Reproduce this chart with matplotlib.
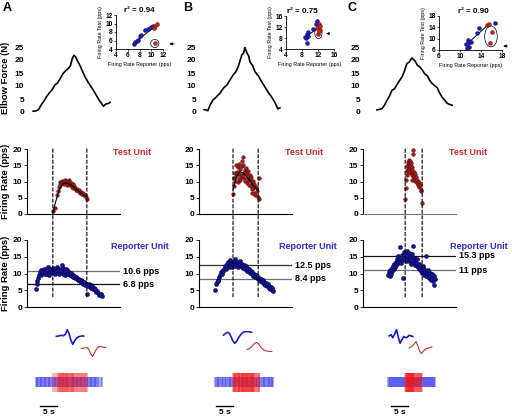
import numpy as np
import matplotlib
matplotlib.use('Agg')
import matplotlib.pyplot as plt
from matplotlib.patches import Ellipse, ConnectionPatch
from matplotlib.transforms import blended_transform_factory

plt.rcParams['font.family'] = ['Liberation Sans', 'DejaVu Sans']
plt.rcParams['font.weight'] = 'bold'

# ---------------- data (time in s from the left edge of each panel) ----------------
force_t_A = [1.8, 2.6, 3.4, 4.2, 5.0, 5.8, 6.6, 7.4, 8.2, 9.0, 9.8, 10.6, 11.4, 12.2, 12.8, 13.3, 13.8,
             14.3, 14.8, 15.6, 16.4, 17.2, 18.0, 18.8, 19.6, 20.4, 21.2, 21.9, 22.5, 23.0, 23.5, 24.0, 24.4]
force_A = [0.3, 0.4, 0.9, 2.8, 4.2, 6.0, 7.4, 8.6, 10.4, 11.2, 12.9, 14.8, 15.9, 16.8, 17.9, 20.5, 21.8,
           21.2, 19.8, 17.8, 15.4, 13.2, 11.4, 9.8, 8.2, 6.4, 4.6, 3.3, 2.2, 2.9, 3.2, 3.3, 3.7]
force_t_B = [1.5, 2.1, 2.6, 3.3, 4.1, 5.1, 6.2, 7.2, 8.2, 9.1, 10.0, 10.8, 11.5, 12.1, 12.6, 13.1, 13.5,
             14.1, 14.6, 15.0, 15.8, 16.5, 17.5, 18.5, 19.4, 20.3, 21.3, 22.4, 23.2, 23.8]
force_B = [0.9, 0.8, 0.5, 2.8, 4.6, 5.8, 7.3, 9.2, 10.4, 12.3, 14.2, 15.4, 17.3, 19.8, 22.0, 22.6, 24.8,
           22.7, 21.6, 19.2, 17.8, 15.4, 13.8, 11.5, 9.6, 7.7, 5.9, 3.5, 1.2, 1.6]
force_t_C = [4.1, 4.8, 5.6, 6.3, 7.1, 7.8, 8.5, 9.3, 10.0, 10.7, 11.5, 12.2, 12.9, 13.6, 14.1, 14.4, 14.8,
             15.3, 16.0, 16.8, 17.5, 18.2, 19.0, 19.6, 20.3, 21.0, 21.8, 22.5, 23.2, 24.0, 24.7, 25.5, 26.2]
force_C = [0.8, 1.0, 1.3, 2.6, 4.6, 6.2, 8.3, 9.0, 10.6, 12.0, 13.5, 15.8, 18.6, 19.2, 20.3, 20.8, 20.2,
           19.6, 18.0, 17.2, 16.0, 14.6, 13.8, 12.2, 11.0, 10.2, 9.4, 7.4, 5.8, 4.6, 3.4, 2.9, 2.6]

test_t_A = [7.7, 8.2, 8.8, 9.1, 9.4, 9.6, 9.8, 10.0, 10.2, 10.4,
            10.6, 10.8, 11.0, 11.2, 11.4, 11.6, 11.8, 12.0, 12.2, 12.4,
            12.6, 12.8, 13.0, 13.2, 13.4, 13.6, 13.8, 14.0, 14.3, 14.6,
            14.9, 15.2, 15.5, 15.8, 16.1, 16.4, 16.7, 17.0, 17.3, 17.6]
test_A = [1.0, 1.8, 5.8, 7.0, 8.2, 9.8, 8.9, 10.0, 9.4, 10.3,
          9.6, 10.1, 9.2, 10.6, 9.8, 10.2, 9.0, 9.9, 9.5, 10.4,
          8.8, 9.6, 9.1, 8.4, 9.3, 8.0, 8.7, 7.9, 7.4, 7.8,
          7.0, 7.3, 6.5, 6.9, 6.2, 6.6, 5.8, 6.0, 5.2, 4.6]
fit_t_A = [7.6, 8.5, 9.5, 10.5, 11.5, 12.5, 13.5, 14.5, 15.5, 16.5, 17.6]
fit_A = [0.5, 4.0, 7.5, 9.3, 9.6, 9.2, 8.5, 7.6, 6.8, 6.0, 5.2]

rep_t_A = [2.6, 2.8, 3.0, 3.3, 3.5, 3.8, 4.0, 4.2, 4.5, 4.7,
           5.0, 5.2, 5.4, 5.7, 5.9, 6.2, 6.4, 6.6, 6.9, 7.1,
           7.4, 7.6, 7.8, 8.1, 8.3, 8.6, 8.8, 9.0, 9.3, 9.5,
           9.8, 10.0, 10.2, 10.5, 10.7, 11.0, 11.2, 11.4, 11.7, 11.9,
           12.2, 12.4, 12.6, 12.9, 13.1, 13.4, 13.6, 13.8, 14.1, 14.3,
           14.6, 14.8, 15.0, 15.3, 15.5, 15.8, 16.0, 16.2, 16.5, 16.7,
           17.0, 17.2, 17.5, 17.7, 17.9, 18.2, 18.4, 18.7, 18.9, 19.1,
           19.4, 19.6, 19.9, 20.1, 20.4, 20.7, 21.0, 21.3, 21.7, 22.1]
rep_A = [5.4, 6.8, 7.9, 8.8, 9.6, 10.4, 9.5, 11.0, 10.1, 10.7,
         11.4, 9.9, 10.6, 11.2, 10.0, 11.8, 10.4, 9.7, 11.3, 10.9,
         10.1, 11.6, 10.3, 9.8, 11.0, 10.5, 12.0, 10.2, 11.4, 9.9,
         10.8, 11.1, 12.4, 10.0, 11.7, 10.6, 9.6, 11.2, 10.4, 10.9,
         9.8, 10.3, 9.5, 10.1, 9.3, 9.7, 8.9, 9.4, 8.7, 9.0,
         8.4, 8.8, 8.0, 8.5, 7.7, 8.2, 7.4, 7.8, 7.0, 7.5,
         6.6, 7.2, 4.0, 6.8, 6.3, 7.0, 6.1, 6.5, 5.8, 6.2,
         5.4, 5.8, 5.0, 5.3, 4.6, 4.9, 4.3, 3.7, 3.9, 3.2]

test_t_B = [10.0, 10.2, 10.4, 10.5, 10.7, 10.9, 11.0, 11.2, 11.4, 11.5,
            11.7, 11.9, 12.0, 12.2, 12.4, 12.5, 12.7, 12.9, 13.0, 13.2,
            13.4, 13.5, 13.7, 13.9, 14.0, 14.2, 14.4, 14.5, 14.7, 14.9,
            15.0, 15.2, 15.4, 15.5, 15.7, 15.9, 16.0, 16.3, 16.6, 16.9,
            17.1, 17.3, 17.5, 11.8, 12.6, 13.3, 14.6, 15.6, 16.2, 17.6]
test_B = [6.2, 8.5, 11.0, 12.5, 10.2, 15.2, 11.8, 13.0, 9.8, 14.4,
          12.2, 15.4, 10.6, 13.8, 11.5, 14.8, 12.0, 15.0, 17.6, 11.0,
          13.6, 10.2, 12.8, 14.2, 9.6, 12.4, 11.2, 13.2, 9.0, 12.0,
          10.8, 8.6, 11.4, 9.4, 6.5, 10.2, 8.0, 9.2, 6.0, 8.4,
          7.2, 5.2, 4.6, 10.8, 16.4, 12.6, 10.6, 7.6, 6.4, 11.2]
fit_t_B = [10.0, 11.0, 12.0, 13.0, 14.0, 15.0, 16.0, 17.4]
fit_B = [7.5, 11.5, 13.0, 12.6, 11.5, 10.2, 8.8, 7.2]

rep_t_B = [4.7, 5.0, 5.2, 5.5, 5.7, 6.0, 6.2, 6.5, 6.7, 7.0,
           7.2, 7.5, 7.7, 8.0, 8.2, 8.5, 8.7, 9.0, 9.2, 9.5,
           9.7, 10.0, 10.2, 10.5, 10.7, 11.0, 11.2, 11.5, 11.7, 12.0,
           12.2, 12.5, 12.7, 13.0, 13.2, 13.5, 13.7, 14.0, 14.2, 14.5,
           14.7, 15.0, 15.2, 15.5, 15.7, 16.0, 16.2, 16.5, 16.7, 17.0,
           17.2, 17.5, 17.7, 18.0, 18.2, 18.5, 18.7, 19.0, 19.2, 19.5,
           19.7, 20.0, 20.2, 20.5, 20.7, 21.0, 21.2, 21.4, 21.6, 21.8]
rep_B = [5.2, 6.8, 7.4, 8.2, 7.8, 9.0, 9.6, 10.4, 9.8, 11.0,
         10.6, 11.6, 12.2, 11.4, 12.8, 13.4, 12.0, 14.0, 12.6, 13.2,
         11.8, 12.9, 13.6, 12.2, 14.2, 12.8, 13.4, 11.9, 13.0, 12.4,
         13.8, 12.0, 12.8, 11.6, 12.4, 11.2, 12.2, 10.8, 11.6, 10.6,
         11.2, 10.2, 10.8, 9.8, 10.4, 9.4, 10.0, 9.0, 9.6, 8.6,
         9.2, 8.2, 8.8, 7.8, 8.4, 7.4, 8.0, 7.0, 7.6, 6.6,
         7.2, 6.2, 6.8, 5.8, 6.4, 5.4, 6.0, 5.0, 5.6, 4.8]

test_t_C = [12.3, 12.5, 12.6, 12.8, 12.9, 13.0, 13.1, 13.2, 13.3, 13.4,
            13.5, 13.6, 13.7, 13.8, 13.9, 14.0, 14.1, 14.2, 14.3, 14.4,
            14.5, 14.6, 14.7, 14.8, 14.9, 15.0, 15.2, 15.4, 15.6, 15.8,
            16.0, 16.2, 16.4, 16.6, 16.8, 17.0, 17.2, 17.4, 13.6, 14.4]
test_C = [4.5, 8.0, 10.5, 12.0, 14.8, 13.2, 16.0, 15.2, 14.0, 16.6,
          15.6, 13.8, 16.2, 15.0, 14.4, 13.0, 15.8, 12.6, 14.6, 12.0,
          13.6, 18.6, 19.8, 11.6, 13.0, 10.8, 12.2, 10.2, 11.4, 9.6,
          10.6, 8.8, 9.8, 8.2, 9.0, 7.4, 7.0, 3.4, 12.8, 10.4]

rep_t_C = [7.4, 7.6, 7.8, 8.0, 8.2, 8.4, 8.6, 8.8, 9.0, 9.2,
           9.4, 9.6, 9.8, 10.0, 10.2, 10.4, 10.6, 10.8, 11.0, 11.2,
           11.4, 11.6, 11.8, 12.0, 12.2, 12.4, 12.6, 12.8, 13.0, 13.2,
           13.4, 13.6, 13.8, 14.0, 14.2, 14.4, 14.6, 14.8, 15.0, 15.2,
           15.4, 15.6, 15.8, 16.0, 16.2, 16.4, 16.6, 16.8, 17.0, 17.2,
           17.4, 17.6, 17.8, 18.0, 18.2, 18.4, 18.6, 18.8, 19.0, 19.2,
           19.4, 19.6, 19.8, 20.0, 20.2, 20.4, 20.6, 20.8, 21.0, 21.2]
rep_C = [9.6, 10.4, 9.2, 11.0, 10.0, 11.6, 10.8, 12.2, 11.4, 12.8,
         12.0, 13.4, 12.6, 14.2, 13.0, 15.2, 13.8, 17.8, 14.4, 13.2,
         15.6, 14.0, 8.8, 16.4, 14.8, 15.8, 13.6, 16.8, 14.6, 15.4,
         13.8, 16.2, 14.4, 15.0, 12.8, 15.8, 13.4, 18.2, 14.6, 12.6,
         14.0, 13.0, 12.2, 14.4, 11.8, 12.8, 11.2, 12.4, 10.6, 11.8,
         10.2, 12.2, 9.6, 11.4, 10.4, 9.2, 15.2, 10.8, 9.8, 11.0,
         8.8, 10.2, 9.4, 8.2, 10.0, 8.6, 7.8, 9.2, 6.7, 8.4]

# reference levels on the reporter unit (pps)
level_hi = [10.6, 12.5, 15.3]
level_lo = [6.8, 8.4, 11]
level_hi_txt = ['10.6 pps', '12.5 pps', '15.3 pps']
level_lo_txt = ['6.8 pps', '8.4 pps', '11 pps']
# recruitment / derecruitment times of the test unit (s)
t_on = [7.6, 10.0, 12.4]
t_off = [17.6, 17.4, 17.4]

# inset: test vs reporter firing rate
in_blue_x_A = [7.0, 7.2, 7.6, 7.8, 8.1, 8.3, 9.0, 9.5, 10.0, 10.3]
in_blue_y_A = [5.2, 5.6, 6.0, 6.2, 7.0, 7.2, 8.4, 8.8, 9.2, 9.3]
in_red_x_A = [10.4, 10.6, 10.9, 10.6]
in_red_y_A = [9.0, 9.3, 9.8, 5.3]
in_blue_x_B = [9.0, 9.2, 9.2, 9.5, 8.8, 9.4, 10.8, 11.8, 11.6]
in_blue_y_B = [8.0, 6.2, 9.6, 10.2, 8.2, 8.6, 11.4, 14.2, 13.0]
in_red_x_B = [12.2, 12.5, 11.8, 12.4, 12.0, 12.3]
in_red_y_B = [13.0, 12.2, 11.8, 11.0, 9.3, 10.5]
in_blue_x_C = [11.2, 11.5, 11.8, 11.4, 12.0, 13.2, 13.6, 16.6, 11.6]
in_blue_y_C = [8.0, 9.4, 7.2, 6.8, 9.0, 12.0, 13.8, 15.5, 8.6]
in_red_x_C = [15.2, 15.6, 16.0, 15.8]
in_red_y_C = [14.8, 15.2, 12.4, 8.4]
reg_x = [[7.0, 10.9], [9.5, 12.3], [11.3, 15.4]]
reg_y = [[5.3, 9.6], [9.0, 12.0], [8.0, 15.0]]
r2_txt = ['r\u00b2 = 0.94', 'r\u00b2 = 0.75', 'r\u00b2 = 0.90']
in_lims = [(4, 12), (4, 16), (6, 18)]
in_ticks = [[4, 6, 8, 10, 12], [4, 8, 12, 16], [6, 10, 14, 18]]

# spike waveforms (arbitrary units)
wave_blue_A = [0, 0.05, 0.1, 0.15, 0.1, 0.3, 1.0, 0.4, -0.6, -1.2, -0.7, -0.3, -0.1, 0, 0.05, 0.05]
wave_red_A = [0, 0, 0.05, 0.1, -0.1, -0.6, -0.9, -0.5, -0.1, 0.15, 0.2, 0.15, 0.1, 0.1]
wave_blue_B = [0, 0.2, 0.4, 0.3, -0.2, -0.8, -1.2, -0.9, -0.4, 0.0, 0.3, 0.45, 0.5, 0.5, 0.45, 0.4]
wave_red_B = [0, 0.1, 0.3, 0.6, 0.9, 1.0, 0.8, 0.4, 0.1, -0.1, -0.2, -0.25, -0.3, -0.3]
wave_blue_C = [0, 0.2, -0.3, 0.3, 1.0, -0.2, -1.2, -0.6, -0.1, -0.3, -0.2, 0.1, 0.0, -0.1]
wave_red_C = [0, 0.2, 0.4, 0.8, 1.2, 0.4, -0.6, -1.0, -0.6, -0.3, -0.1, 0.0, 0.1, 0.2]

# ---------------- layout ----------------
W, H = 512, 417
fig = plt.figure(figsize=(W / 100, H / 100), dpi=100)


def add_px(x0, y0, x1, y1):
    return fig.add_axes([x0 / W, 1 - y1 / H, (x1 - x0) / W, (y1 - y0) / H])


left = [27, 199, 363]
span = 93
tmax = 27.35
letters = ['A', 'B', 'C']
letter_x = [3, 183, 348]
inset_box = [(116, 15, 163, 49), (286, 16, 334, 49), (439, 16, 502, 50)]
ellipses = [((10.6, 5.3), 1.4, 1.9), ((12.1, 9.8), 1.8, 4.0), ((15.9, 10.8), 2.4, 7.4)]
arrows = [((14.4, 5.2), (12.6, 5.2)), ((15.6, 9.6), (13.3, 9.6)), ((19.6, 7.4), (17.7, 7.4))]
r2_x = [0.5, 0.35, 0.55]
wave_box_blue = [(55, 329, 85, 345), (222, 331, 253, 344), (388, 329, 414, 344)]
wave_box_red = [(80, 346, 107, 357), (246, 342, 273, 352), (408, 341, 433, 354)]
scale_start = [3.8, 5.0, 8.2]
rep_label_x = [1.21, 1.17, 1.25]

forces = [(force_t_A, force_A), (force_t_B, force_B), (force_t_C, force_C)]
tests = [(test_t_A, test_A), (test_t_B, test_B), (test_t_C, test_C)]
fits = [(fit_t_A, fit_A), (fit_t_B, fit_B), None]
reps = [(rep_t_A, rep_A), (rep_t_B, rep_B), (rep_t_C, rep_C)]
insets = [(in_blue_x_A, in_blue_y_A, in_red_x_A, in_red_y_A),
          (in_blue_x_B, in_blue_y_B, in_red_x_B, in_red_y_B),
          (in_blue_x_C, in_blue_y_C, in_red_x_C, in_red_y_C)]
waves = [(wave_blue_A, wave_red_A), (wave_blue_B, wave_red_B), (wave_blue_C, wave_red_C)]

BLUE = '#14148c'
RED = '#9c1a1a'
TICK_FS = 6

for i in range(3):
    x0 = left[i]

    # elbow force
    axF = add_px(x0, 47, x0 + span, 112)
    axF.plot(forces[i][0], forces[i][1], color='k', lw=1.2, clip_on=False)
    axF.set_xlim(0, tmax)
    axF.set_ylim(0, 25)
    for s in axF.spines.values():
        s.set_visible(False)
    axF.set_xticks([])
    axF.set_yticks([0, 5, 10, 15, 20, 25])
    axF.tick_params(axis='y', length=0, labelsize=TICK_FS, pad=2)

    # test unit
    axT = add_px(x0, 149, x0 + span, 214)
    axT.scatter(tests[i][0], tests[i][1], s=7, color=RED, edgecolors='#5a0a0a',
                linewidths=0.3, zorder=3, clip_on=False)
    if fits[i] is not None:
        axT.plot(fits[i][0], fits[i][1], color='k', lw=0.8, zorder=4)
    axT.set_xlim(0, tmax)
    axT.set_ylim(0, 20)
    axT.spines[['top', 'right']].set_visible(False)
    axT.spines['bottom'].set_color('k' if i < 2 else '#777777')
    axT.set_xticks([])
    axT.set_yticks([0, 5, 10, 15, 20])
    axT.tick_params(axis='y', length=2, width=0.6, labelsize=TICK_FS, pad=1.5)
    axT.text(1.13, 0.94, 'Test Unit', transform=axT.transAxes, color='#d42a2a',
             fontsize=6.5, ha='center', va='center')

    # reporter unit
    axR = add_px(x0, 240, x0 + span, 307)
    axR.scatter(reps[i][0], reps[i][1], s=9, color=BLUE, edgecolors='#050550',
                linewidths=0.3, zorder=3, clip_on=False)
    axR.set_xlim(0, tmax)
    axR.set_ylim(0, 20)
    axR.spines[['top', 'right']].set_visible(False)
    axR.set_xticks([])
    axR.set_yticks([0, 5, 10, 15, 20])
    axR.tick_params(axis='y', length=2, width=0.6, labelsize=TICK_FS, pad=1.5)
    hi_col = ['#707070', '#333333', '#111111'][i]
    lo_col = ['#111111', '#707070', '#707070'][i]
    axR.axhline(level_hi[i], color=hi_col, lw=0.9, zorder=2)
    axR.axhline(level_lo[i], color=lo_col, lw=0.9, zorder=2)
    tr = blended_transform_factory(axR.transAxes, axR.transData)
    axR.text(1.03, level_hi[i], level_hi_txt[i], transform=tr, fontsize=6.5, va='center', ha='left')
    axR.text(1.03, level_lo[i], level_lo_txt[i], transform=tr, fontsize=6.5, va='center', ha='left')
    axR.text(rep_label_x[i], 0.91, 'Reporter Unit', transform=axR.transAxes, color='#2a2ad0',
             fontsize=6.5, ha='center', va='center')

    # recruitment / derecruitment markers through both panels
    for t in (t_on[i], t_off[i]):
        con = ConnectionPatch(xyA=(t, 20), coordsA=axT.transData, xyB=(t, 2.5), coordsB=axR.transData,
                              linestyle=(0, (3, 2)), color='k', lw=0.8, zorder=5)
        fig.add_artist(con)

    # inset regression
    bx, by, rx, ry = insets[i]
    axI = add_px(*inset_box[i])
    axI.scatter(bx, by, s=8, color='#1c1cb0', edgecolors='#0a0a60', linewidths=0.3, zorder=3)
    axI.scatter(rx, ry, s=8, color='#c42222', edgecolors='#600a0a', linewidths=0.3, zorder=3)
    axI.plot(reg_x[i], reg_y[i], color='k', lw=0.7, zorder=2)
    (cx, cy), ew, eh = ellipses[i]
    axI.add_patch(Ellipse((cx, cy), ew, eh, fill=False, color='k', lw=0.5, clip_on=False))
    axI.annotate('', xy=arrows[i][1], xytext=arrows[i][0], annotation_clip=False,
                 arrowprops=dict(arrowstyle='-|>', color='k', lw=0.6, mutation_scale=4))
    lo, hi = in_lims[i]
    axI.set_xlim(lo, hi)
    axI.set_ylim(lo, hi)
    axI.set_xticks(in_ticks[i])
    axI.set_yticks(in_ticks[i])
    axI.spines[['top', 'right']].set_visible(False)
    for s in axI.spines.values():
        s.set_linewidth(0.6)
    axI.tick_params(length=1.5, width=0.5, labelsize=4.8, pad=1)
    axI.set_xlabel('Firing Rate Reporter (pps)', fontsize=3.9, labelpad=2)
    axI.set_ylabel('Firing Rate Test (pps)', fontsize=3.9, labelpad=1.5)
    axI.text(r2_x[i], 1.02, r2_txt[i], transform=axI.transAxes, fontsize=5.8, ha='center', va='bottom')

    # spike waveforms
    wb, wr = waves[i]
    axWB = add_px(*wave_box_blue[i])
    axWB.plot(range(len(wb)), wb, color='#1a1ad0', lw=1.2)
    axWR = add_px(*wave_box_red[i])
    axWR.plot(range(len(wr)), wr, color='#c83030', lw=0.8)
    for a in (axWB, axWR):
        a.axis('off')

    # spike rasters (one tick per discharge)
    axS = add_px(x0, 370, x0 + span, 395)
    axS.vlines(reps[i][0], 0.32, 0.72, color='#2b2bf0', alpha=0.45, lw=1.2)
    axS.vlines(tests[i][0], 0.12, 0.88, color='#f01818', alpha=0.4, lw=1.2)
    axS.set_xlim(0, tmax)
    axS.set_ylim(0, 1)
    axS.axis('off')
    t0 = scale_start[i]
    axS.plot([t0, t0 + 5], [-0.44, -0.44], color='k', lw=1.0, clip_on=False)
    axS.text(t0 + 2.5, -0.58, '5 s', fontsize=6, ha='center', va='top')

    fig.text(letter_x[i] / W, 1 - 2 / H, letters[i], fontsize=9, ha='left', va='top')

fig.text(6 / W, 1 - 78 / H, 'Elbow Force (N)', rotation=90, fontsize=6.8, ha='center', va='center')
fig.text(6 / W, 1 - 181 / H, 'Firing Rate (pps)', rotation=90, fontsize=6.8, ha='center', va='center')
fig.text(6 / W, 1 - 273 / H, 'Firing Rate (pps)', rotation=90, fontsize=6.8, ha='center', va='center')

fig.savefig('out.png', dpi=100)
